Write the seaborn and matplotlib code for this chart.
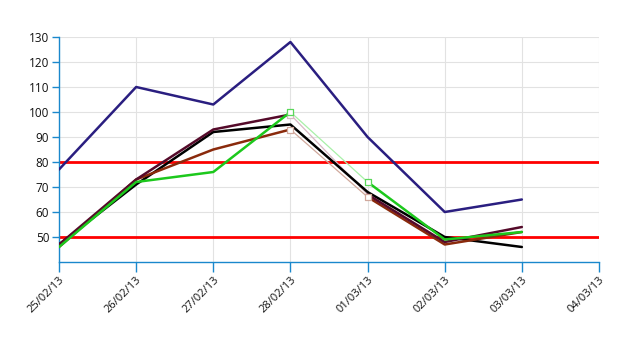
import matplotlib
matplotlib.use("Agg")
import matplotlib.pyplot as plt
import numpy as np
import pandas as pd
import seaborn as sns

# Dates on the x axis (last one has no data)
DATES = ["25/02/13", "26/02/13", "27/02/13", "28/02/13", "01/03/13", "02/03/13", "03/03/13", "04/03/13"]

# Series values, one per date up to 03/03/13
navy = [77, 110, 103, 128, 90, 60, 65]
maroon = [47, 73, 93, 99, 67, 48, 54]
black = [47, 71, 92, 95, 68, 50, 46]
brown = [46, 73, 85, 93, 66, 47, 52]
green = [46, 72, 76, 100, 72, 49, 52]

# Threshold lines
LIMITS = [50, 80]

SERIES = {"navy": navy, "maroon": maroon, "black": black, "brown": brown, "green": green}
COLORS = {"navy": "#2a1e80", "maroon": "#550a2a", "black": "#000000", "brown": "#8a2a0c", "green": "#1cc81c"}
LIGHT = {"maroon": "#d8b8c4", "brown": "#d0a89c", "green": "#a8f0a8"}

AXIS_BLUE = "#1a88cc"

sns.set_style("whitegrid", {"grid.color": "#e2e2e2", "axes.edgecolor": AXIS_BLUE,
                            "xtick.color": "#111111", "ytick.color": "#111111"})
plt.rcParams["font.family"] = ["Open Sans", "DejaVu Sans"]

fig = plt.figure(figsize=(6.43, 3.59), dpi=100)
ax = fig.add_axes([59 / 643, 1 - 262 / 359, 540 / 643, 225 / 359])

df = pd.DataFrame(SERIES)
df["x"] = np.arange(len(navy))
long = df.melt(id_vars="x", var_name="series", value_name="value")

# Most series have a faded "gap" segment between 28/02 and 01/03
gap = [3, 4]
for name in ["navy", "black"]:
    sub = long[long.series == name]
    sns.lineplot(data=sub, x="x", y="value", color=COLORS[name], lw=1.8, ax=ax, legend=False, zorder=4)

for name in ["brown", "maroon", "green"]:
    sub = long[long.series == name]
    left = sub[sub.x <= gap[0]]
    right = sub[sub.x >= gap[1]]
    mid = sub[sub.x.isin(gap)]
    sns.lineplot(data=left, x="x", y="value", color=COLORS[name], lw=1.8, ax=ax, legend=False, zorder=4)
    sns.lineplot(data=right, x="x", y="value", color=COLORS[name], lw=1.8, ax=ax, legend=False, zorder=4)
    sns.lineplot(data=mid, x="x", y="value", color=LIGHT[name], lw=0.9, ax=ax, legend=False, zorder=3)
    pts = mid if name != "maroon" else mid[mid.x == gap[0]]
    ax.scatter(pts.x, pts.value, marker="s", s=16, facecolor="white",
               edgecolor=LIGHT[name] if name != "green" else "#5ad85a", linewidths=0.9, zorder=5)

for v in LIMITS:
    ax.axhline(v, color="#ff0000", lw=2, zorder=2)

ax.set_xlim(0, len(DATES) - 1)
ax.set_ylim(40, 130)
ax.set_xticks(np.arange(len(DATES)))
ax.set_xticklabels(DATES, rotation=45, ha="right", rotation_mode="anchor", fontsize=8)
ax.set_yticks(np.arange(50, 131, 10))
ax.tick_params(axis="y", labelsize=8.5, length=5, width=1, color=AXIS_BLUE, direction="out", pad=2, left=True)
ax.tick_params(axis="x", length=7, width=1, color=AXIS_BLUE, direction="out", pad=2, bottom=True)
ax.set_xlabel("")
ax.set_ylabel("")
for side in ["top", "right"]:
    ax.spines[side].set_visible(False)
for side in ["left", "bottom"]:
    ax.spines[side].set_color(AXIS_BLUE)
    ax.spines[side].set_linewidth(1)
ax.grid(True, lw=0.8)

fig.savefig("out.png", dpi=100)
